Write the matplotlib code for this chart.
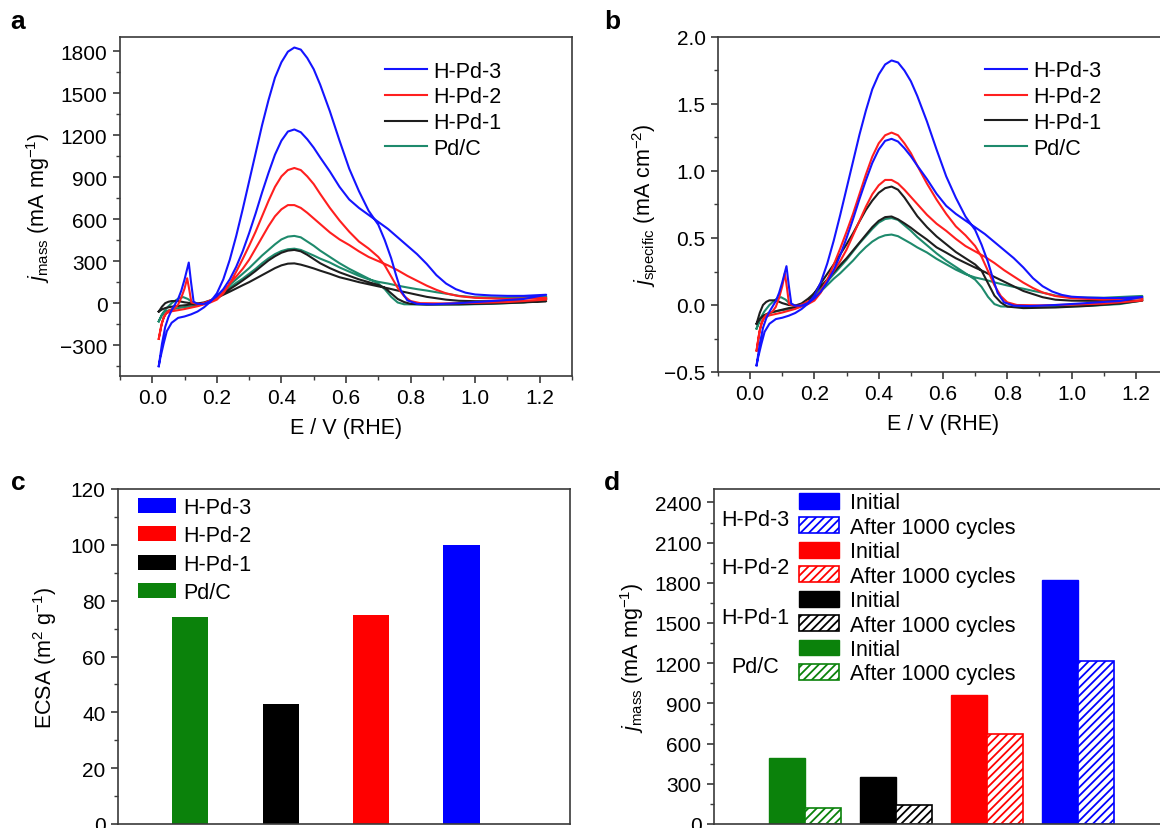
import numpy as np
import matplotlib
matplotlib.use('Agg')
import matplotlib.pyplot as plt
from matplotlib.ticker import MultipleLocator
from matplotlib.lines import Line2D
from matplotlib.patches import Patch

plt.rcParams['font.family'] = ['Liberation Sans', 'DejaVu Sans']
plt.rcParams['mathtext.fontset'] = 'custom'
plt.rcParams['mathtext.rm'] = 'Liberation Sans'
plt.rcParams['mathtext.it'] = 'Liberation Sans:italic'
plt.rcParams['hatch.linewidth'] = 1.3
plt.rcParams['axes.linewidth'] = 1.2

# ---- CV data, panel a (mA mg-1); forward scan ascending, backward scan descending ----
E_h3_fwd = [0.02, 0.03, 0.04, 0.05, 0.06, 0.07, 0.08, 0.09, 0.10, 0.113, 0.12, 0.128, 0.14, 0.16, 0.18,
            0.20, 0.22, 0.24, 0.26, 0.28, 0.30, 0.32, 0.34, 0.36, 0.38, 0.40, 0.42, 0.44, 0.46, 0.48,
            0.50, 0.52, 0.55, 0.58, 0.61, 0.64, 0.67, 0.70, 0.73, 0.76, 0.79, 0.82, 0.85, 0.88, 0.91,
            0.94, 0.97, 1.00, 1.05, 1.10, 1.15, 1.22]
J_h3_fwd = [-450, -290, -170, -100, -50, -10, 30, 90, 170, 290, 150, 10, -5, -5, 15,
            50, 100, 170, 260, 370, 500, 640, 790, 930, 1060, 1160, 1225, 1240, 1220, 1170,
            1110, 1040, 940, 830, 740, 680, 630, 580, 530, 470, 410, 350, 280, 200, 140,
            100, 75, 62, 55, 52, 52, 60]
E_h3_bwd = [1.22, 1.15, 1.05, 0.95, 0.87, 0.82, 0.79, 0.77, 0.755, 0.74, 0.72, 0.70, 0.67, 0.64, 0.61,
            0.58, 0.55, 0.52, 0.50, 0.48, 0.46, 0.44, 0.42, 0.40, 0.38, 0.36, 0.34, 0.32, 0.30, 0.28,
            0.26, 0.24, 0.22, 0.20, 0.18, 0.16, 0.14, 0.12, 0.10, 0.08, 0.06, 0.045, 0.035, 0.025, 0.02]
J_h3_bwd = [60, 30, 15, 0, -8, -5, 20, 90, 200, 320, 450, 560, 660, 800, 960,
            1160, 1370, 1560, 1670, 1750, 1810, 1825, 1795, 1720, 1610, 1450, 1270, 1070, 870, 670,
            480, 310, 170, 70, 10, -30, -60, -80, -95, -105, -140, -200, -290, -390, -450]

E_h2_fwd = [0.02, 0.03, 0.04, 0.05, 0.06, 0.07, 0.08, 0.09, 0.10, 0.108, 0.115, 0.121, 0.135, 0.15, 0.165,
            0.18, 0.20, 0.22, 0.24, 0.26, 0.28, 0.30, 0.32, 0.34, 0.36, 0.38, 0.40, 0.42, 0.44, 0.46,
            0.48, 0.50, 0.52, 0.55, 0.58, 0.61, 0.64, 0.67, 0.70, 0.73, 0.76, 0.79, 0.82, 0.85, 0.88,
            0.91, 0.95, 1.00, 1.10, 1.22]
J_h2_fwd = [-255, -140, -80, -55, -45, -35, -10, 40, 105, 178, 90, 5, -3, -5, 5,
            20, 35, 80, 140, 190, 245, 310, 390, 470, 550, 620, 670, 700, 700, 680,
            645, 605, 565, 505, 455, 415, 370, 330, 300, 270, 235, 195, 160, 125, 95,
            70, 50, 38, 30, 38]
E_h2_bwd = [1.22, 1.10, 1.00, 0.90, 0.83, 0.80, 0.78, 0.76, 0.74, 0.72, 0.70, 0.67, 0.64, 0.61, 0.58,
            0.55, 0.52, 0.50, 0.48, 0.46, 0.44, 0.42, 0.40, 0.38, 0.36, 0.34, 0.32, 0.30, 0.28, 0.26,
            0.24, 0.22, 0.20, 0.18, 0.16, 0.14, 0.12, 0.10, 0.08, 0.06, 0.045, 0.035, 0.027, 0.02]
J_h2_bwd = [25, 8, 2, -2, 0, 15, 50, 110, 190, 270, 330, 390, 440, 510, 590,
            680, 780, 850, 905, 950, 965, 950, 905, 830, 730, 620, 510, 410, 315, 225,
            140, 70, 25, 5, -8, -22, -32, -42, -50, -58, -70, -100, -170, -255]

E_h1_fwd = [0.02, 0.03, 0.04, 0.05, 0.06, 0.08, 0.10, 0.12, 0.14, 0.16, 0.18, 0.20, 0.22, 0.24, 0.26,
            0.28, 0.30, 0.32, 0.34, 0.36, 0.38, 0.40, 0.42, 0.44, 0.46, 0.48, 0.50, 0.52, 0.55, 0.58,
            0.61, 0.64, 0.67, 0.70, 0.73, 0.76, 0.79, 0.82, 0.85, 0.88, 0.91, 0.95, 1.00, 1.10, 1.22]
J_h1_fwd = [-60, -25, 0, 10, 15, 15, 6, 0, -2, 5, 20, 38, 60, 82, 105,
            128, 150, 175, 200, 225, 250, 270, 282, 284, 275, 262, 248, 232, 210, 185,
            168, 150, 135, 120, 106, 90, 75, 60, 45, 35, 25, 17, 14, 13, 14]
E_h1_bwd = [1.22, 1.15, 1.05, 0.95, 0.85, 0.80, 0.78, 0.76, 0.74, 0.72, 0.70, 0.67, 0.64, 0.61, 0.58,
            0.55, 0.52, 0.50, 0.48, 0.46, 0.44, 0.42, 0.40, 0.38, 0.36, 0.34, 0.32, 0.30, 0.28, 0.26,
            0.24, 0.22, 0.20, 0.18, 0.16, 0.14, 0.12, 0.10, 0.08, 0.06, 0.04, 0.03, 0.02]
J_h1_bwd = [14, 5, -3, -8, -10, -5, 8, 30, 70, 110, 130, 150, 170, 195, 220,
            250, 285, 315, 345, 370, 380, 375, 360, 335, 305, 268, 230, 195, 162, 130,
            100, 70, 38, 10, -2, -8, -10, -15, -20, -25, -35, -45, -60]

E_pdc_fwd = [0.02, 0.03, 0.044, 0.06, 0.075, 0.085, 0.096, 0.11, 0.121, 0.135, 0.148, 0.165, 0.18, 0.20, 0.22,
             0.24, 0.26, 0.28, 0.30, 0.32, 0.34, 0.36, 0.38, 0.40, 0.42, 0.44, 0.46, 0.48, 0.50, 0.52,
             0.55, 0.58, 0.61, 0.64, 0.67, 0.70, 0.73, 0.76, 0.79, 0.82, 0.85, 0.88, 0.91, 0.95, 1.00,
             1.10, 1.22]
J_pdc_fwd = [-130, -80, -36, 0, 24, 38, 43, 30, 12, 0, -5, 0, 12, 40, 75,
             110, 145, 175, 210, 245, 285, 320, 350, 372, 385, 389, 380, 360, 340, 318,
             290, 255, 225, 195, 170, 152, 140, 125, 112, 100, 90, 78, 68, 52, 42,
             40, 50]
E_pdc_bwd = [1.22, 1.15, 1.05, 0.95, 0.85, 0.78, 0.76, 0.74, 0.72, 0.70, 0.67, 0.64, 0.61, 0.58, 0.55,
             0.52, 0.50, 0.48, 0.46, 0.44, 0.42, 0.40, 0.38, 0.36, 0.34, 0.32, 0.30, 0.28, 0.26, 0.24,
             0.22, 0.20, 0.18, 0.16, 0.14, 0.12, 0.10, 0.08, 0.06, 0.04, 0.03, 0.02]
J_pdc_bwd = [25, 5, -5, -10, -10, -8, 5, 45, 100, 140, 175, 210, 245, 285, 330,
             375, 410, 440, 470, 480, 475, 455, 420, 380, 340, 295, 250, 210, 170, 130,
             90, 50, 15, -5, -18, -24, -28, -35, -45, -60, -85, -130]

# ---- bar data ----
samples = ['Pd/C', 'H-Pd-1', 'H-Pd-2', 'H-Pd-3']
ecsa = [74, 43, 75, 100]               # m2 g-1
jm_initial = [490, 350, 960, 1820]     # mA mg-1
jm_after = [120, 145, 670, 1220]

line_colors = {'H-Pd-3': '#1414ff', 'H-Pd-2': '#ff1f1f', 'H-Pd-1': '#1e1e1e', 'Pd/C': '#1e8a6c'}
bar_colors = {'H-Pd-3': '#0000ff', 'H-Pd-2': '#ff0000', 'H-Pd-1': '#000000', 'Pd/C': '#0b820b'}

cv = {
    'Pd/C': (E_pdc_fwd + E_pdc_bwd, J_pdc_fwd + J_pdc_bwd),
    'H-Pd-1': (E_h1_fwd + E_h1_bwd, J_h1_fwd + J_h1_bwd),
    'H-Pd-2': (E_h2_fwd + E_h2_bwd, J_h2_fwd + J_h2_bwd),
    'H-Pd-3': (E_h3_fwd + E_h3_bwd, J_h3_fwd + J_h3_bwd),
}

W, H = 1160, 829
fig = plt.figure(figsize=(W / 100, H / 100), dpi=100)


def box(l, t, r, b):
    return [l / W, 1 - b / H, (r - l) / W, (b - t) / H]


ax_a = fig.add_axes(box(120, 38, 572, 377))
ax_b = fig.add_axes(box(718, 38, 1168, 373))
ax_c = fig.add_axes(box(118, 490, 570, 825))
ax_d = fig.add_axes(box(714, 490, 1169, 825))


def style(ax):
    for s in ax.spines.values():
        s.set_color('#3a3a3a')
    ax.tick_params(which='both', direction='out', top=False, right=False,
                   labelsize=15, color='#3a3a3a', pad=4)
    ax.tick_params(which='major', length=5, width=1.2)
    ax.tick_params(which='minor', length=3, width=1.0)


# panel a
for name in ['Pd/C', 'H-Pd-1', 'H-Pd-2', 'H-Pd-3']:
    e, j = cv[name]
    ax_a.plot(e, j, color=line_colors[name], lw=1.5)
ax_a.set_xlim(-0.1, 1.3)
ax_a.set_ylim(-520, 1900)
ax_a.xaxis.set_major_locator(MultipleLocator(0.2))
ax_a.xaxis.set_minor_locator(MultipleLocator(0.1))
ax_a.yaxis.set_major_locator(MultipleLocator(300))
ax_a.yaxis.set_minor_locator(MultipleLocator(150))
ax_a.set_xlabel('E / V (RHE)', fontsize=15.5, labelpad=7)
ax_a.set_ylabel(r'$j_{\rm mass}$ (mA mg$^{-1}$)', fontsize=15.5, labelpad=6)
style(ax_a)

# panel b: specific activity = mass activity / ECSA (1 m2 g-1 = 10 cm2 mg-1)
for name in ['Pd/C', 'H-Pd-1', 'H-Pd-2', 'H-Pd-3']:
    e, j = cv[name]
    area = ecsa[samples.index(name)] * 10.0
    ax_b.plot(e, np.array(j) / area, color=line_colors[name], lw=1.5)
ax_b.set_xlim(-0.1, 1.3)
ax_b.set_ylim(-0.5, 2.0)
ax_b.xaxis.set_major_locator(MultipleLocator(0.2))
ax_b.xaxis.set_minor_locator(MultipleLocator(0.1))
ax_b.yaxis.set_major_locator(MultipleLocator(0.5))
ax_b.yaxis.set_minor_locator(MultipleLocator(0.25))
ax_b.set_xlabel('E / V (RHE)', fontsize=15.5, labelpad=7)
ax_b.set_ylabel(r'$j_{\rm specific}$ (mA cm$^{-2}$)', fontsize=15.5, labelpad=4)
style(ax_b)

leg_names = ['H-Pd-3', 'H-Pd-2', 'H-Pd-1', 'Pd/C']
for ax, x0 in [(ax_a, 0.586), (ax_b, 0.593)]:
    handles = [Line2D([], [], color=line_colors[n], lw=1.5) for n in leg_names]
    ax.legend(handles, leg_names, loc='upper left', bbox_to_anchor=(x0, 0.93),
              frameon=False, fontsize=15.5, handlelength=1.95, handletextpad=0.3,
              labelspacing=0.22, borderpad=0, borderaxespad=0)

# panel c
pos = np.arange(1, len(samples) + 1)
ax_c.bar(pos - 0.2, ecsa, width=0.4, color=[bar_colors[n] for n in samples])
ax_c.set_xlim(0, 5)
ax_c.set_ylim(0, 120)
ax_c.yaxis.set_major_locator(MultipleLocator(20))
ax_c.yaxis.set_minor_locator(MultipleLocator(10))
ax_c.set_xticks([])
ax_c.set_ylabel(r'ECSA (m$^2$ g$^{-1}$)', fontsize=15.5, labelpad=8)
style(ax_c)
handles = [Patch(facecolor=bar_colors[n], edgecolor='none') for n in leg_names]
ax_c.legend(handles, leg_names, loc='upper left', bbox_to_anchor=(0.044, 0.976),
            frameon=False, fontsize=15.5, handlelength=1.75, handleheight=0.7,
            handletextpad=0.35, labelspacing=0.34, borderpad=0, borderaxespad=0)

# panel d
for i, n in enumerate(samples):
    ax_d.bar(pos[i] - 0.2, jm_initial[i], width=0.4, color=bar_colors[n], edgecolor=bar_colors[n])
    ax_d.bar(pos[i] + 0.2, jm_after[i], width=0.4, facecolor='white',
             edgecolor=bar_colors[n], hatch='////', lw=1.2)
ax_d.set_xlim(0, 5)
ax_d.set_ylim(0, 2500)
ax_d.yaxis.set_major_locator(MultipleLocator(300))
ax_d.yaxis.set_minor_locator(MultipleLocator(150))
ax_d.set_xticks([])
ax_d.set_ylabel(r'$j_{\rm mass}$ (mA mg$^{-1}$)', fontsize=15.5, labelpad=6)
style(ax_d)
handles, labels = [], []
for n in leg_names:
    handles.append(Patch(facecolor=bar_colors[n], edgecolor=bar_colors[n]))
    labels.append('Initial')
    handles.append(Patch(facecolor='white', edgecolor=bar_colors[n], hatch='////', lw=1.2))
    labels.append('After 1000 cycles')
ax_d.legend(handles, labels, loc='upper left', bbox_to_anchor=(0.187, 0.99),
            frameon=False, fontsize=15.5, handlelength=1.85, handleheight=0.75,
            handletextpad=0.5, labelspacing=0.16, borderpad=0, borderaxespad=0)
for n, yf in zip(leg_names, [0.91, 0.765, 0.615, 0.47]):
    ax_d.text(0.09, yf, n, transform=ax_d.transAxes, fontsize=15.5, ha='center', va='center')

# panel letters
for lab, x, y in [('a', 18, 22), ('b', 612, 22), ('c', 18, 483), ('d', 612, 483)]:
    fig.text(x / W, 1 - y / H, lab, fontsize=19, fontweight='bold', va='center', ha='center')

fig.savefig('out.png', dpi=100)
